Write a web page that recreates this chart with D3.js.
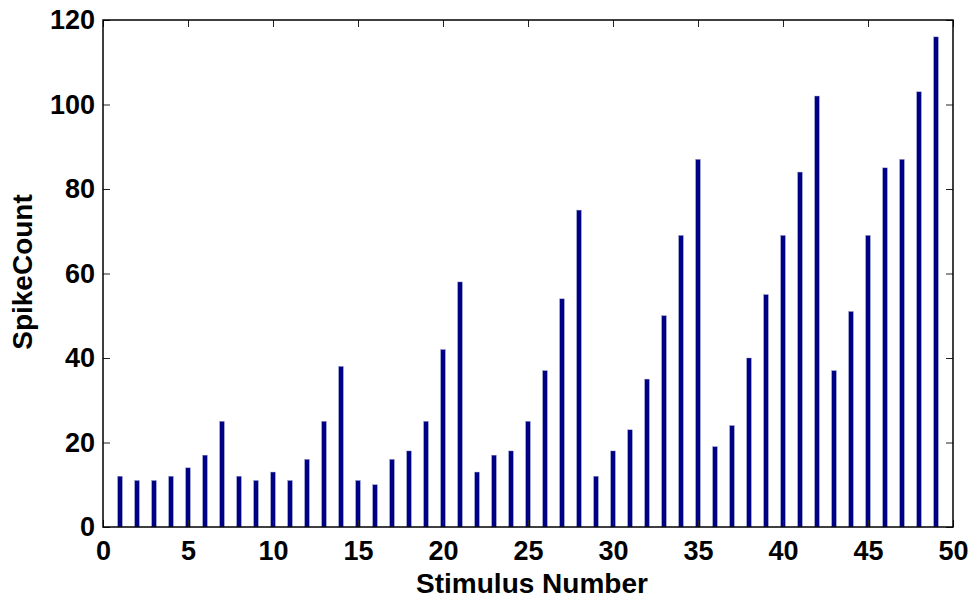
<!DOCTYPE html>
<html>
<head>
<meta charset="utf-8">
<script src="https://cdn.jsdelivr.net/npm/d3@7"></script>
<style>
  body { margin: 0; background: #fff; }
  svg text { font-family: "Liberation Sans", Arial, sans-serif; font-weight: bold; fill: #000; }
</style>
</head>
<body>
<svg id="chart" width="975" height="599"></svg>
<script>
// stimulus numbers and spike counts
var stimulus = d3.range(1, 50);
var spikeCount = [12, 11, 11, 12, 14, 17, 25, 12, 11, 13, 11, 16, 25, 38, 11, 10, 16, 18, 25, 42,
  58, 13, 17, 18, 25, 37, 54, 75, 12, 18, 23, 35, 50, 69, 87, 19, 24, 40, 55, 69,
  84, 102, 37, 51, 69, 85, 87, 103, 116];
var xTicks = [0, 5, 10, 15, 20, 25, 30, 35, 40, 45, 50];
var yTicks = [0, 20, 40, 60, 80, 100, 120];

var svg = d3.select("#chart");

// plot box
var boxLeft = 103, boxRight = 953, boxTop = 20, boxBottom = 527;
var tickLen = 7;

var x = d3.scaleLinear().domain([0, 50]).range([boxLeft, boxRight]);
var y = d3.scaleLinear().domain([0, 120]).range([boxBottom, boxTop]);

var barW = 4.6;

// bars
svg.append("g")
  .selectAll("rect")
  .data(stimulus)
  .enter()
  .append("rect")
  .attr("x", function(d) { return x(d) - barW / 2; })
  .attr("y", function(d, i) { return y(spikeCount[i]); })
  .attr("width", barW)
  .attr("height", function(d, i) { return y(0) - y(spikeCount[i]); })
  .attr("fill", "#000085")
  .attr("stroke", "#8a93c0")
  .attr("stroke-width", 0.4);

// axes, inward ticks
var xBottom = svg.append("g")
  .attr("transform", "translate(0," + boxBottom + ")")
  .call(d3.axisBottom(x).tickValues(xTicks).tickSizeInner(-tickLen).tickSizeOuter(0).tickPadding(14));
var xTop = svg.append("g")
  .attr("transform", "translate(0," + boxTop + ")")
  .call(d3.axisTop(x).tickValues(xTicks).tickSizeInner(-tickLen).tickSizeOuter(0).tickFormat(""));
var yLeft = svg.append("g")
  .attr("transform", "translate(" + boxLeft + ",0)")
  .call(d3.axisLeft(y).tickValues(yTicks).tickSizeInner(-tickLen).tickSizeOuter(0).tickPadding(8));
var yRight = svg.append("g")
  .attr("transform", "translate(" + boxRight + ",0)")
  .call(d3.axisRight(y).tickValues(yTicks).tickSizeInner(-tickLen).tickSizeOuter(0).tickFormat(""));

[xBottom, xTop, yLeft, yRight].forEach(function(g) {
  g.select(".domain").remove();
  g.selectAll(".tick line").attr("stroke", "#222").attr("stroke-width", 1);
  g.selectAll("text").attr("font-size", 27).attr("font-family", null);
});

// box
svg.append("rect")
  .attr("x", boxLeft)
  .attr("y", boxTop)
  .attr("width", boxRight - boxLeft)
  .attr("height", boxBottom - boxTop)
  .attr("fill", "none")
  .attr("stroke", "#000")
  .attr("stroke-width", 1.5);

// labels
svg.append("text")
  .attr("x", 532)
  .attr("y", 593)
  .attr("text-anchor", "middle")
  .attr("font-size", 28)
  .text("Stimulus Number");

svg.append("text")
  .attr("transform", "translate(32,272) rotate(-90)")
  .attr("text-anchor", "middle")
  .attr("font-size", 28)
  .text("SpikeCount");
</script>
</body>
</html>
